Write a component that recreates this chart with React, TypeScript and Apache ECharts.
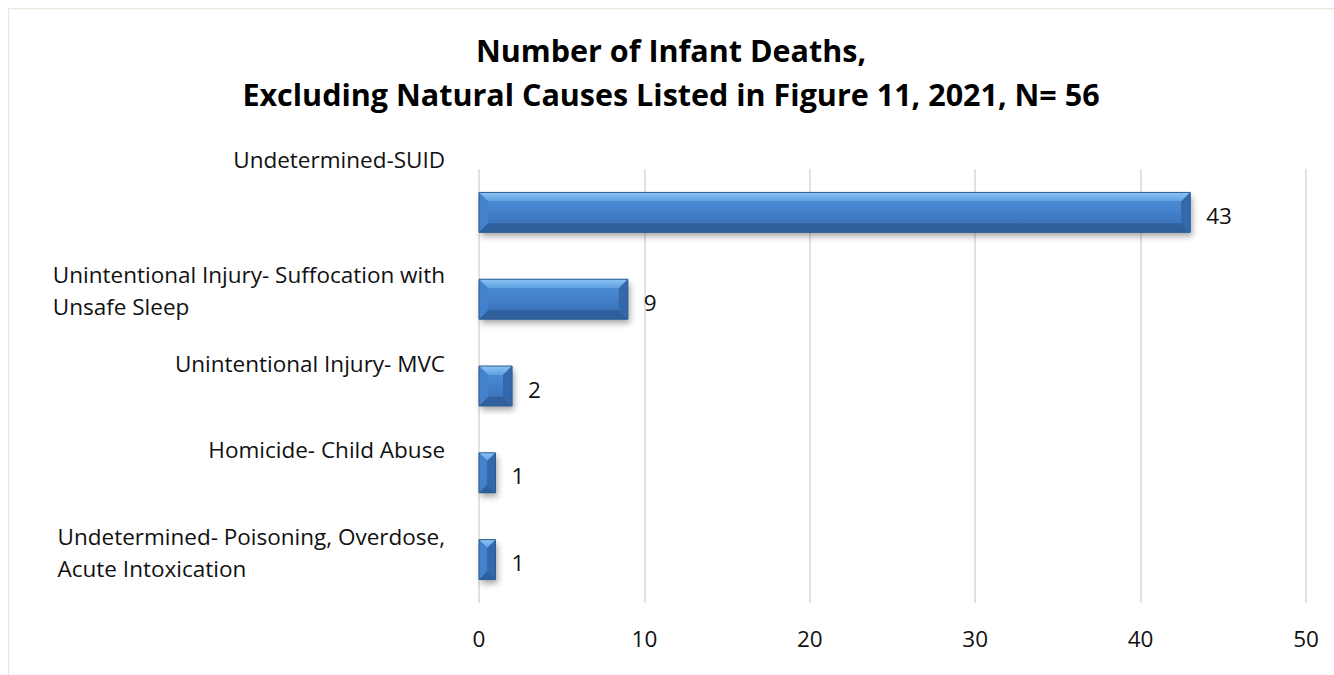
import React, { useEffect, useRef } from "react";
import * as echarts from "echarts";

// Causes of death (top to bottom) and the number of infant deaths for each
const causes = [
  "Undetermined-SUID",
  "Unintentional Injury- Suffocation with\nUnsafe Sleep",
  "Unintentional Injury- MVC",
  "Homicide- Child Abuse",
  "Undetermined- Poisoning, Overdose,\nAcute Intoxication",
];
const deaths = [43, 9, 2, 1, 1];

const axisMax = 50;
const axisStep = 10;

const titleLines = [
  "Number of Infant Deaths,",
  "Excluding Natural Causes Listed in Figure 11, 2021, N= 56",
];

// Extra blank space under each category label, lifting the text above the bar centre
const labelLift = [106, 18, 46, 46, 14];

const FONT = "'Open Sans', 'Noto Sans', sans-serif";
const TEXT_SIZE = 22.5;

export default function App() {
  const ref = useRef<HTMLDivElement>(null);

  useEffect(() => {
    if (!ref.current) return;
    const chart = echarts.init(ref.current, undefined, { renderer: "svg" });

    const rich: Record<string, any> = {
      t: {
        fontSize: TEXT_SIZE,
        lineHeight: 32,
        color: "#111",
        fontFamily: FONT,
        align: "left",
      },
    };
    labelLift.forEach((g, i) => {
      rich["g" + i] = { fontSize: 1, lineHeight: g };
    });

    const renderBar = (params: any, api: any) => {
      const v = api.value(0) as number;
      const idx = api.value(1) as number;
      const start = api.coord([0, idx]);
      const end = api.coord([v, idx]);
      const band = api.size([0, 1])[1];
      const h = band * 0.46;
      const x0 = start[0];
      const x1 = end[0];
      const yc = start[1];
      const y0 = yc - h / 2;
      const y1 = yc + h / 2;
      const w = x1 - x0;
      const b = Math.min(9, w / 2, h / 2);

      return {
        type: "group",
        children: [
          {
            type: "rect",
            shape: { x: x0, y: y0, width: w, height: h },
            style: {
              fill: "#3a6fb0",
              shadowBlur: 6,
              shadowOffsetX: 2,
              shadowOffsetY: 4,
              shadowColor: "rgba(0,0,0,0.35)",
            },
          },
          {
            type: "rect",
            shape: { x: x0 + b, y: y0 + b, width: Math.max(w - 2 * b, 0), height: h - 2 * b },
            style: {
              fill: new echarts.graphic.LinearGradient(0, 0, 0, 1, [
                { offset: 0, color: "#4a8bd6" },
                { offset: 1, color: "#3b74bd" },
              ]),
            },
          },
          {
            type: "polygon",
            shape: { points: [[x0, y0], [x1, y0], [x1 - b, y0 + b], [x0 + b, y0 + b]] },
            style: {
              fill: new echarts.graphic.LinearGradient(0, 0, 0, 1, [
                { offset: 0, color: "#8cc3f3" },
                { offset: 1, color: "#5e9fe2" },
              ]),
            },
          },
          {
            type: "polygon",
            shape: { points: [[x0, y1], [x1, y1], [x1 - b, y1 - b], [x0 + b, y1 - b]] },
            style: { fill: "#2f5f9c" },
          },
          {
            type: "polygon",
            shape: { points: [[x0, y0], [x0 + b, y0 + b], [x0 + b, y1 - b], [x0, y1]] },
            style: { fill: "#4381cc" },
          },
          {
            type: "polygon",
            shape: { points: [[x1, y0], [x1 - b, y0 + b], [x1 - b, y1 - b], [x1, y1]] },
            style: { fill: "#3568aa" },
          },
          {
            type: "rect",
            shape: { x: x0, y: y0, width: w, height: h },
            style: { fill: "none", stroke: "#2d5b93", lineWidth: 1 },
          },
          {
            type: "text",
            style: {
              text: String(v),
              x: x1 + 16,
              y: yc + 3,
              fontSize: TEXT_SIZE,
              fontFamily: FONT,
              fill: "#111",
              verticalAlign: "middle",
              align: "left",
            },
          },
        ],
      };
    };

    const titleStyle = {
      fontSize: 30.5,
      fontWeight: "bold",
      fontFamily: FONT,
      fill: "#000",
      align: "center",
      verticalAlign: "middle",
    };

    chart.setOption({
      animation: false,
      backgroundColor: "#ffffff",
      graphic: [
        {
          type: "rect",
          shape: { x: 0.5, y: 0.5, width: 1400, height: 800 },
          style: { fill: "none", stroke: "#ebe7dc", lineWidth: 1.5 },
          silent: true,
        },
        {
          type: "text",
          x: 663,
          y: 42,
          style: { ...titleStyle, text: titleLines[0] },
        },
        {
          type: "text",
          x: 663,
          y: 86,
          style: { ...titleStyle, text: titleLines[1] },
        },
      ],
      grid: { left: 471, right: 28, top: 161, bottom: 72, containLabel: false },
      xAxis: {
        type: "value",
        min: 0,
        max: axisMax,
        interval: axisStep,
        axisLine: { show: false },
        axisTick: { show: false },
        splitLine: { show: true, lineStyle: { color: "#d9d9d9", width: 1.5 } },
        axisLabel: { fontSize: TEXT_SIZE, fontFamily: FONT, color: "#111", margin: 24 },
      },
      yAxis: {
        type: "category",
        inverse: true,
        data: causes,
        axisLine: { show: false },
        axisTick: { show: false },
        axisLabel: {
          margin: 34,
          align: "right",
          formatter: (value: string, index: number) =>
            value
              .split("\n")
              .map((l) => `{t|${l}}`)
              .join("\n") + `\n{g${index}| }`,
          rich,
        },
      },
      series: [
        {
          type: "custom",
          renderItem: renderBar,
          encode: { x: 0, y: 1 },
          data: deaths.map((v, i) => [v, i]),
        },
      ],
    });

    return () => chart.dispose();
  }, []);

  return (
    <div
      ref={ref}
      style={{ position: "absolute", left: 8, top: 8, width: 1326, height: 667 }}
    />
  );
}
